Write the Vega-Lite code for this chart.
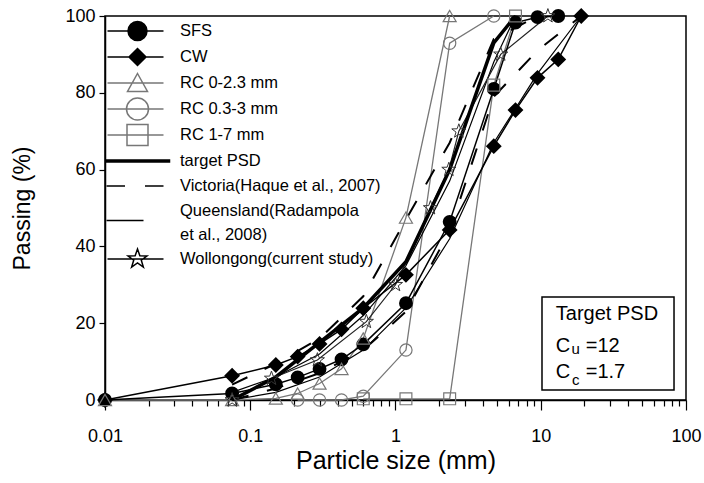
{
  "$schema": "https://vega.github.io/schema/vega-lite/v6.json",
  "width": 581,
  "height": 384,
  "autosize": "none",
  "padding": {"left": 105, "top": 16, "right": 18, "bottom": 83},
  "config": {
    "font": "Liberation Sans",
    "view": {"stroke": "black", "strokeWidth": 1.5}
  },
  "datasets": {
    "curves": [
      {"series": "SFS", "line": "SFS", "size": 0.01, "pass": 0},
      {"series": "SFS", "line": "SFS", "size": 0.075, "pass": 1.7},
      {"series": "SFS", "line": "SFS", "size": 0.15, "pass": 4.1},
      {"series": "SFS", "line": "SFS", "size": 0.212, "pass": 5.9},
      {"series": "SFS", "line": "SFS", "size": 0.3, "pass": 8.1},
      {"series": "SFS", "line": "SFS", "size": 0.425, "pass": 10.6},
      {"series": "SFS", "line": "SFS", "size": 0.6, "pass": 14.5},
      {"series": "SFS", "line": "SFS", "size": 1.18, "pass": 25.2},
      {"series": "SFS", "line": "SFS", "size": 2.36, "pass": 46.4},
      {"series": "SFS", "line": "SFS", "size": 4.75, "pass": 81},
      {"series": "SFS", "line": "SFS", "size": 6.7, "pass": 98.3},
      {"series": "SFS", "line": "SFS", "size": 9.5, "pass": 99.7},
      {"series": "SFS", "line": "SFS", "size": 13.2, "pass": 100},
      {"series": "CW", "line": "CW", "size": 0.01, "pass": 0},
      {"series": "CW", "line": "CW", "size": 0.075, "pass": 6.3},
      {"series": "CW", "line": "CW", "size": 0.15, "pass": 9.1},
      {"series": "CW", "line": "CW", "size": 0.212, "pass": 11.3},
      {"series": "CW", "line": "CW", "size": 0.3, "pass": 14.6},
      {"series": "CW", "line": "CW", "size": 0.425, "pass": 18.4},
      {"series": "CW", "line": "CW", "size": 0.6, "pass": 23.9},
      {"series": "CW", "line": "CW", "size": 1.18, "pass": 32.6},
      {"series": "CW", "line": "CW", "size": 2.36, "pass": 44.3},
      {"series": "CW", "line": "CW", "size": 4.75, "pass": 66.1},
      {"series": "CW", "line": "CW", "size": 6.7, "pass": 75.5},
      {"series": "CW", "line": "CW", "size": 9.5, "pass": 83.9},
      {"series": "CW", "line": "CW", "size": 13.2, "pass": 88.7},
      {"series": "CW", "line": "CW", "size": 19, "pass": 100},
      {"series": "RC 0-2.3 mm", "line": "RC1", "size": 0.01, "pass": 0},
      {"series": "RC 0-2.3 mm", "line": "RC1", "size": 0.075, "pass": 0},
      {"series": "RC 0-2.3 mm", "line": "RC1", "size": 0.15, "pass": 0.4},
      {"series": "RC 0-2.3 mm", "line": "RC1", "size": 0.212, "pass": 1.7},
      {"series": "RC 0-2.3 mm", "line": "RC1", "size": 0.3, "pass": 4.3},
      {"series": "RC 0-2.3 mm", "line": "RC1", "size": 0.425, "pass": 8.1},
      {"series": "RC 0-2.3 mm", "line": "RC1", "size": 0.6, "pass": 16},
      {"series": "RC 0-2.3 mm", "line": "RC1", "size": 1.18, "pass": 47.5},
      {"series": "RC 0-2.3 mm", "line": "RC1", "size": 2.36, "pass": 100},
      {"series": "RC 0.3-3 mm", "line": "RC2", "size": 0.212, "pass": 0},
      {"series": "RC 0.3-3 mm", "line": "RC2", "size": 0.3, "pass": 0},
      {"series": "RC 0.3-3 mm", "line": "RC2", "size": 0.425, "pass": 0},
      {"series": "RC 0.3-3 mm", "line": "RC2", "size": 0.6, "pass": 1},
      {"series": "RC 0.3-3 mm", "line": "RC2", "size": 1.18, "pass": 13},
      {"series": "RC 0.3-3 mm", "line": "RC2", "size": 2.36, "pass": 92.9},
      {"series": "RC 0.3-3 mm", "line": "RC2", "size": 4.75, "pass": 100},
      {"series": "RC 1-7 mm", "line": "RC3", "size": 0.6, "pass": 0.3},
      {"series": "RC 1-7 mm", "line": "RC3", "size": 1.18, "pass": 0.3},
      {"series": "RC 1-7 mm", "line": "RC3", "size": 2.36, "pass": 0.3},
      {"series": "RC 1-7 mm", "line": "RC3", "size": 4.75, "pass": 82},
      {"series": "RC 1-7 mm", "line": "RC3", "size": 6.7, "pass": 100},
      {"series": "target PSD", "line": "target", "size": 0.075, "pass": 0},
      {"series": "target PSD", "line": "target", "size": 0.15, "pass": 6},
      {"series": "target PSD", "line": "target", "size": 0.3, "pass": 15},
      {"series": "target PSD", "line": "target", "size": 0.6, "pass": 24},
      {"series": "target PSD", "line": "target", "size": 1.18, "pass": 36},
      {"series": "target PSD", "line": "target", "size": 2.36, "pass": 60},
      {"series": "target PSD", "line": "target", "size": 4.75, "pass": 93},
      {"series": "target PSD", "line": "target", "size": 6.7, "pass": 100},
      {"series": "Victoria", "line": "Vic upper", "size": 0.075, "pass": 4},
      {"series": "Victoria", "line": "Vic upper", "size": 0.15, "pass": 9.5},
      {"series": "Victoria", "line": "Vic upper", "size": 0.3, "pass": 16},
      {"series": "Victoria", "line": "Vic upper", "size": 0.6, "pass": 27},
      {"series": "Victoria", "line": "Vic upper", "size": 1.18, "pass": 47},
      {"series": "Victoria", "line": "Vic upper", "size": 2.36, "pass": 67},
      {"series": "Victoria", "line": "Vic upper", "size": 4.75, "pass": 94},
      {"series": "Victoria", "line": "Vic upper", "size": 9.5, "pass": 100},
      {"series": "Victoria", "line": "Vic lower", "size": 0.075, "pass": 0},
      {"series": "Victoria", "line": "Vic lower", "size": 0.15, "pass": 3},
      {"series": "Victoria", "line": "Vic lower", "size": 0.3, "pass": 7},
      {"series": "Victoria", "line": "Vic lower", "size": 0.6, "pass": 13},
      {"series": "Victoria", "line": "Vic lower", "size": 1.18, "pass": 23},
      {"series": "Victoria", "line": "Vic lower", "size": 2.36, "pass": 44},
      {"series": "Victoria", "line": "Vic lower", "size": 4.75, "pass": 79},
      {"series": "Victoria", "line": "Vic lower", "size": 9.5, "pass": 91},
      {"series": "Victoria", "line": "Vic lower", "size": 19, "pass": 100},
      {"series": "Queensland", "line": "Qld upper", "size": 0.075, "pass": 2},
      {"series": "Queensland", "line": "Qld upper", "size": 0.15, "pass": 6},
      {"series": "Queensland", "line": "Qld upper", "size": 0.3, "pass": 12},
      {"series": "Queensland", "line": "Qld upper", "size": 0.6, "pass": 22},
      {"series": "Queensland", "line": "Qld upper", "size": 1.18, "pass": 35},
      {"series": "Queensland", "line": "Qld upper", "size": 2.36, "pass": 57},
      {"series": "Queensland", "line": "Qld upper", "size": 4.75, "pass": 88},
      {"series": "Queensland", "line": "Qld upper", "size": 6.7, "pass": 100},
      {"series": "Queensland", "line": "Qld lower", "size": 0.075, "pass": 0},
      {"series": "Queensland", "line": "Qld lower", "size": 0.15, "pass": 2},
      {"series": "Queensland", "line": "Qld lower", "size": 0.3, "pass": 6},
      {"series": "Queensland", "line": "Qld lower", "size": 0.6, "pass": 13},
      {"series": "Queensland", "line": "Qld lower", "size": 1.18, "pass": 24},
      {"series": "Queensland", "line": "Qld lower", "size": 2.36, "pass": 42},
      {"series": "Queensland", "line": "Qld lower", "size": 4.75, "pass": 67},
      {"series": "Queensland", "line": "Qld lower", "size": 9.5, "pass": 85},
      {"series": "Queensland", "line": "Qld lower", "size": 19, "pass": 100},
      {"series": "Wollongong", "line": "Woll", "size": 0.075, "pass": 0},
      {"series": "Wollongong", "line": "Woll", "size": 0.14, "pass": 5.6},
      {"series": "Wollongong", "line": "Woll", "size": 0.29, "pass": 10.4},
      {"series": "Wollongong", "line": "Woll", "size": 0.63, "pass": 20.4},
      {"series": "Wollongong", "line": "Woll", "size": 1.0, "pass": 30},
      {"series": "Wollongong", "line": "Woll", "size": 1.74, "pass": 50},
      {"series": "Wollongong", "line": "Woll", "size": 2.33, "pass": 60},
      {"series": "Wollongong", "line": "Woll", "size": 2.73, "pass": 70},
      {"series": "Wollongong", "line": "Woll", "size": 5.3, "pass": 90},
      {"series": "Wollongong", "line": "Woll", "size": 11.2, "pass": 100}
    ],
    "box": [
      {"x1": 10.2, "x2": 82.7, "y1": 2.6, "y2": 26.8}
    ],
    "notesBig": [
      {"text": "Target PSD", "size": 12.7, "pass": 20.8},
      {"text": "C", "size": 12.7, "pass": 12.6},
      {"text": "=12", "size": 20.4, "pass": 12.6},
      {"text": "C", "size": 12.7, "pass": 5.6},
      {"text": "=1.7", "size": 20.4, "pass": 5.6}
    ],
    "notesSmall": [
      {"text": "u", "size": 17.4, "pass": 12.1},
      {"text": "c", "size": 17.4, "pass": 3.9}
    ],
    "legendEntries": [
      {"entry": "SFS"},
      {"entry": "CW"},
      {"entry": "RC 0-2.3 mm"},
      {"entry": "RC 0.3-3 mm"},
      {"entry": "RC 1-7 mm"},
      {"entry": "target PSD"},
      {"entry": "Victoria(Haque et al., 2007)"},
      {"entry": "Queensland(Radampola"},
      {"entry": "et al., 2008)"},
      {"entry": "Wollongong(current study)"}
    ]
  },
  "resolve": {"axis": {"x": "independent"}},
  "layer": [
    {
      "data": {"name": "box"},
      "mark": {"type": "rect", "fill": "white", "stroke": "black", "strokeWidth": 1.5},
      "encoding": {
        "x": {
          "field": "x1", "type": "quantitative",
          "scale": {"type": "log", "domain": [0.01, 100], "nice": false},
          "axis": {
            "orient": "bottom",
            "title": "Particle size (mm)",
            "values": [0.01, 0.1, 1, 10, 100],
            "format": "~g",
            "tickSize": 10,
            "grid": false, "labelFlush": false, "labelOverlap": false, "labelBound": false,
            "domainColor": "black", "domainWidth": 1.5, "tickColor": "black", "tickWidth": 1.2,
            "labelColor": "black", "labelFontSize": 18, "labelPadding": 17,
            "titleColor": "black", "titleFontSize": 25, "titleFontWeight": "normal", "titlePadding": 3
          }
        },
        "x2": {"field": "x2"},
        "y": {
          "field": "y1", "type": "quantitative",
          "scale": {"domain": [0, 100], "nice": false},
          "axis": {
            "title": "Passing (%)",
            "values": [0,10,20,30,40,50,60,70,80,90,100],
            "labelExpr": "datum.value % 20 == 0 ? datum.label : ''",
            "grid": false, "tickSize": 6, "domainColor": "black", "domainWidth": 1.5,
            "tickColor": "black", "tickWidth": 1.2, "labelColor": "black", "labelFontSize": 18,
            "labelPadding": 4, "titleColor": "black", "titleFontSize": 23, "titleFontWeight": "normal",
            "titlePadding": 30
          }
        },
        "y2": {"field": "y2"}
      }
    },
    {
      "data": {"name": "notesBig"},
      "mark": {"type": "text", "align": "left", "baseline": "alphabetic", "fontSize": 20, "color": "black"},
      "encoding": {
        "x": {
          "field": "size", "type": "quantitative", "scale": {"type": "log"},
          "axis": {
            "orient": "bottom", "title": null, "labels": false, "domain": false, "grid": false,
            "values": [0.02,0.03,0.04,0.05,0.06,0.07,0.08,0.09,0.2,0.3,0.4,0.5,0.6,0.7,0.8,0.9,2,3,4,5,6,7,8,9,20,30,40,50,60,70,80,90],
            "tickSize": 6, "tickColor": "black", "tickWidth": 1.2
          }
        },
        "y": {"field": "pass", "type": "quantitative"},
        "text": {"field": "text"}
      }
    },
    {
      "data": {"name": "notesSmall"},
      "mark": {"type": "text", "align": "center", "baseline": "alphabetic", "fontSize": 15, "color": "black"},
      "encoding": {
        "x": {"field": "size", "type": "quantitative", "scale": {"type": "log"}, "axis": null},
        "y": {"field": "pass", "type": "quantitative"},
        "text": {"field": "text"}
      }
    },
    {
      "data": {"name": "curves"},
      "transform": [{"filter": "datum.line == 'RC1'"}],
      "mark": {"type": "line", "strokeWidth": 1.3, "stroke": "#777777"},
      "encoding": {
        "x": {"field": "size", "type": "quantitative", "scale": {"type": "log"}, "axis": null},
        "y": {"field": "pass", "type": "quantitative"}
      }
    },
    {
      "data": {"name": "curves"},
      "transform": [{"filter": "datum.line == 'RC2'"}],
      "mark": {"type": "line", "strokeWidth": 1.3, "stroke": "#777777"},
      "encoding": {
        "x": {"field": "size", "type": "quantitative", "scale": {"type": "log"}, "axis": null},
        "y": {"field": "pass", "type": "quantitative"}
      }
    },
    {
      "data": {"name": "curves"},
      "transform": [{"filter": "datum.line == 'RC3'"}],
      "mark": {"type": "line", "strokeWidth": 1.3, "stroke": "#777777"},
      "encoding": {
        "x": {"field": "size", "type": "quantitative", "scale": {"type": "log"}, "axis": null},
        "y": {"field": "pass", "type": "quantitative"}
      }
    },
    {
      "data": {"name": "curves"},
      "transform": [{"filter": "datum.line == 'Vic upper'"}],
      "mark": {"type": "line", "strokeWidth": 2, "strokeDash": [17, 19], "stroke": "black"},
      "encoding": {
        "x": {"field": "size", "type": "quantitative", "scale": {"type": "log"}, "axis": null},
        "y": {"field": "pass", "type": "quantitative"}
      }
    },
    {
      "data": {"name": "curves"},
      "transform": [{"filter": "datum.line == 'Vic lower'"}],
      "mark": {"type": "line", "strokeWidth": 2, "strokeDash": [17, 19], "stroke": "black"},
      "encoding": {
        "x": {"field": "size", "type": "quantitative", "scale": {"type": "log"}, "axis": null},
        "y": {"field": "pass", "type": "quantitative"}
      }
    },
    {
      "data": {"name": "curves"},
      "transform": [{"filter": "datum.line == 'Qld upper'"}],
      "mark": {"type": "line", "strokeWidth": 1.2, "stroke": "black"},
      "encoding": {
        "x": {"field": "size", "type": "quantitative", "scale": {"type": "log"}, "axis": null},
        "y": {"field": "pass", "type": "quantitative"}
      }
    },
    {
      "data": {"name": "curves"},
      "transform": [{"filter": "datum.line == 'Qld lower'"}],
      "mark": {"type": "line", "strokeWidth": 1.2, "stroke": "black"},
      "encoding": {
        "x": {"field": "size", "type": "quantitative", "scale": {"type": "log"}, "axis": null},
        "y": {"field": "pass", "type": "quantitative"}
      }
    },
    {
      "data": {"name": "curves"},
      "transform": [{"filter": "datum.line == 'Woll'"}],
      "mark": {"type": "line", "strokeWidth": 1.2, "stroke": "#222222"},
      "encoding": {
        "x": {"field": "size", "type": "quantitative", "scale": {"type": "log"}, "axis": null},
        "y": {"field": "pass", "type": "quantitative"}
      }
    },
    {
      "data": {"name": "curves"},
      "transform": [{"filter": "datum.line == 'SFS'"}],
      "mark": {"type": "line", "strokeWidth": 1.5, "stroke": "black"},
      "encoding": {
        "x": {"field": "size", "type": "quantitative", "scale": {"type": "log"}, "axis": null},
        "y": {"field": "pass", "type": "quantitative"}
      }
    },
    {
      "data": {"name": "curves"},
      "transform": [{"filter": "datum.line == 'CW'"}],
      "mark": {"type": "line", "strokeWidth": 1.5, "stroke": "black"},
      "encoding": {
        "x": {"field": "size", "type": "quantitative", "scale": {"type": "log"}, "axis": null},
        "y": {"field": "pass", "type": "quantitative"}
      }
    },
    {
      "data": {"name": "curves"},
      "transform": [{"filter": "datum.line == 'target'"}],
      "mark": {"type": "line", "strokeWidth": 3.5, "stroke": "black"},
      "encoding": {
        "x": {"field": "size", "type": "quantitative", "scale": {"type": "log"}, "axis": null},
        "y": {"field": "pass", "type": "quantitative"}
      }
    },
    {
      "data": {"name": "curves"},
      "transform": [{"filter": "datum.series == 'SFS'"}],
      "mark": {"type": "point", "shape": "circle", "filled": true, "fill": "black", "stroke": "black", "opacity": 1, "size": 140},
      "encoding": {
        "x": {"field": "size", "type": "quantitative", "scale": {"type": "log"}, "axis": null},
        "y": {"field": "pass", "type": "quantitative"}
      }
    },
    {
      "data": {"name": "curves"},
      "transform": [{"filter": "datum.series == 'CW'"}],
      "mark": {"type": "point", "shape": "diamond", "filled": true, "fill": "black", "stroke": "black", "opacity": 1, "size": 170},
      "encoding": {
        "x": {"field": "size", "type": "quantitative", "scale": {"type": "log"}, "axis": null},
        "y": {"field": "pass", "type": "quantitative"}
      }
    },
    {
      "data": {"name": "curves"},
      "transform": [{"filter": "datum.series == 'RC 0-2.3 mm'"}],
      "mark": {"type": "point", "shape": "triangle-up", "filled": false, "stroke": "#777777", "strokeWidth": 1.2, "opacity": 1, "size": 170},
      "encoding": {
        "x": {"field": "size", "type": "quantitative", "scale": {"type": "log"}, "axis": null},
        "y": {"field": "pass", "type": "quantitative"}
      }
    },
    {
      "data": {"name": "curves"},
      "transform": [{"filter": "datum.series == 'RC 0.3-3 mm'"}],
      "mark": {"type": "point", "shape": "circle", "filled": false, "stroke": "#777777", "strokeWidth": 1.2, "opacity": 1, "size": 150},
      "encoding": {
        "x": {"field": "size", "type": "quantitative", "scale": {"type": "log"}, "axis": null},
        "y": {"field": "pass", "type": "quantitative"}
      }
    },
    {
      "data": {"name": "curves"},
      "transform": [{"filter": "datum.series == 'RC 1-7 mm'"}],
      "mark": {"type": "point", "shape": "square", "filled": false, "stroke": "#777777", "strokeWidth": 1.2, "opacity": 1, "size": 140},
      "encoding": {
        "x": {"field": "size", "type": "quantitative", "scale": {"type": "log"}, "axis": null},
        "y": {"field": "pass", "type": "quantitative"}
      }
    },
    {
      "data": {"name": "curves"},
      "transform": [{"filter": "datum.series == 'Wollongong'"}],
      "mark": {"type": "point", "shape": "M0,-1L0.235,-0.324L0.951,-0.309L0.38,0.124L0.588,0.809L0,0.4L-0.588,0.809L-0.38,0.124L-0.951,-0.309L-0.235,-0.324Z", "filled": false, "stroke": "#333333", "strokeWidth": 1, "opacity": 1, "size": 220},
      "encoding": {
        "x": {"field": "size", "type": "quantitative", "scale": {"type": "log"}, "axis": null},
        "y": {"field": "pass", "type": "quantitative"}
      }
    },
    {
      "data": {"name": "legendEntries"},
      "mark": {"type": "point", "filled": true, "opacity": 1, "clip": true},
      "encoding": {
        "x": {"datum": 1000, "type": "quantitative", "scale": {"type": "log"}, "axis": null},
        "y": {"datum": 50, "type": "quantitative"},
        "shape": {
          "field": "entry", "type": "nominal",
          "scale": {
            "domain": ["SFS", "CW", "RC 0-2.3 mm", "RC 0.3-3 mm", "RC 1-7 mm", "target PSD", "Victoria(Haque et al., 2007)", "Queensland(Radampola", "et al., 2008)", "Wollongong(current study)"],
            "range": [
              "M0,-1.13M0,1.13M-3,0H2.6M0.95,0A0.95,0.95,0,1,1,-0.95,0A0.95,0.95,0,1,1,0.95,0Z",
              "M0,-1.13M0,1.13M-3,0H2.6M0,-0.85L0.85,0L0,0.85L-0.85,0Z",
              "M0,-1.13M0,1.13M-3,0H2.6M0,-0.95L1,0.85L-1,0.85Z",
              "M0,-1.13M0,1.13M-3,0H2.6M1.1,0A1.1,1.1,0,1,1,-1.1,0A1.1,1.1,0,1,1,1.1,0Z",
              "M0,-1.13M0,1.13M-3,0H2.6M-1.05,-1.05H1.05V1.05H-1.05Z",
              "M0,-1.03M0,1.03M-3.1,-0.1H3.2V0.1H-3.1Z",
              "M0,-1.03M0,1.03M-3.1,0H-1.25M0.75,0H2.6",
              "M0,-0.97M0,0.97M-3.1,0.95H0.6",
              "M0,-0.97M0,0.97",
              "M0,-1.11M0,1.11M-3,0H2.6M0,-1L0.235,-0.324L0.951,-0.309L0.38,0.124L0.588,0.809L0,0.4L-0.588,0.809L-0.38,0.124L-0.951,-0.309L-0.235,-0.324Z"
            ]
          },
          "legend": {
            "orient": "none", "legendX": 21.5, "legendY": 4, "title": null, "direction": "vertical",
            "padding": 0, "symbolSize": 400, "symbolStrokeWidth": 1.5, "symbolOffset": 0,
            "labelFont": "Liberation Sans", "labelFontSize": 16.5, "labelColor": "black", "labelLimit": 0,
            "labelOffset": 31.5, "rowPadding": -6
          }
        },
        "fill": {
          "field": "entry", "type": "nominal",
          "scale": {
            "domain": ["SFS", "CW", "RC 0-2.3 mm", "RC 0.3-3 mm", "RC 1-7 mm", "target PSD", "Victoria(Haque et al., 2007)", "Queensland(Radampola", "et al., 2008)", "Wollongong(current study)"],
            "range": ["black", "black", "transparent", "transparent", "transparent", "black", "transparent", "transparent", "transparent", "transparent"]
          }
        },
        "stroke": {
          "field": "entry", "type": "nominal",
          "scale": {
            "domain": ["SFS", "CW", "RC 0-2.3 mm", "RC 0.3-3 mm", "RC 1-7 mm", "target PSD", "Victoria(Haque et al., 2007)", "Queensland(Radampola", "et al., 2008)", "Wollongong(current study)"],
            "range": ["black", "black", "#777777", "#777777", "#777777", "black", "black", "black", "black", "black"]
          }
        }
      }
    }
  ]
}
